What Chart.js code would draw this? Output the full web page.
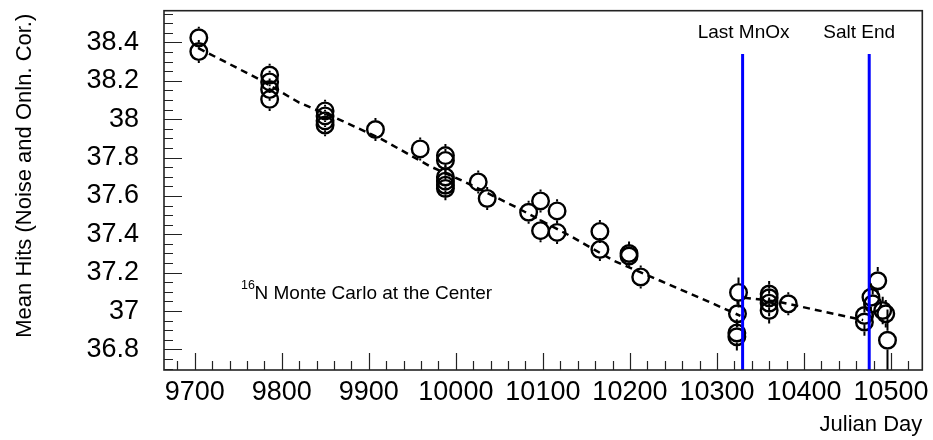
<!DOCTYPE html>
<html>
<head>
<meta charset="utf-8">
<script src="https://cdn.jsdelivr.net/npm/chart.js@4.4.1/dist/chart.umd.min.js"></script>
<style>
  html, body { margin: 0; padding: 0; background: #fff; }
  #wrap { width: 933px; height: 440px; }
</style>
</head>
<body>
<div id="wrap"><canvas id="hits-chart" width="933" height="440"></canvas></div>
<script>
// N16 source runs: mean hits per run vs Julian day
const days = [
  9704.6, 9704.6,
  9786, 9786, 9786, 9786,
  9849.7, 9849.7, 9849.7, 9849.7,
  9907.6, 9959,
  9988, 9988, 9988, 9988, 9988, 9988,
  10025.7, 10036, 10083.6, 10097.3, 10097.3, 10116.3, 10116.3,
  10165.5, 10165.5, 10199, 10199, 10212.4,
  10324.8, 10323.6, 10322.9, 10322.9,
  10360, 10360, 10360, 10360, 10382,
  10484.8, 10477, 10479, 10469.5, 10469.5, 10490.5, 10494, 10496
];
const hits = [
  38.424, 38.352,
  38.230, 38.194, 38.154, 38.103,
  38.043, 38.017, 37.991, 37.969,
  37.946, 37.845,
  37.810, 37.785, 37.699, 37.677, 37.656, 37.639,
  37.673, 37.587, 37.515, 37.574, 37.419, 37.522, 37.410,
  37.415, 37.321, 37.300, 37.287, 37.178,
  37.097, 36.986, 36.886, 36.866,
  37.089, 37.069, 37.041, 37.003, 37.038,
  37.158, 37.072, 37.038, 36.977, 36.943, 37.003, 36.986, 36.848
];
const hitErrs = [
  0.058, 0.060,
  0.058, 0.058, 0.058, 0.060,
  0.058, 0.058, 0.058, 0.058,
  0.060, 0.060,
  0.060, 0.060, 0.060, 0.060, 0.060, 0.062,
  0.060, 0.060, 0.060, 0.060, 0.060, 0.060, 0.060,
  0.060, 0.060, 0.062, 0.062, 0.060,
  0.078, 0.068, 0.072, 0.072,
  0.068, 0.068, 0.068, 0.068, 0.060,
  0.072, 0.072, 0.072, 0.072, 0.072, 0.072, 0.072, 0.160
];

// fitted trend, before and after the last MnOx assay
const fitDaysA = [9704, 9730, 9775, 9820, 9870, 9915, 9970, 10007, 10068, 10132, 10182, 10235, 10292, 10327];
const fitHitsA = [38.37, 38.31, 38.205, 38.086, 37.99, 37.895, 37.755, 37.68, 37.544, 37.39, 37.261, 37.158, 37.046, 36.975];
const fitDaysB = [10331, 10369, 10468];
const fitHitsB = [37.07, 37.05, 36.953];

// run period markers
const markerDays = [10329.5, 10475];
const markerNames = ["Last MnOx", "Salt End"];
const markerTop = 38.34;

const xTickValues = [9700, 9800, 9900, 10000, 10100, 10200, 10300, 10400, 10500];
const yTickValues = [36.8, 37.0, 37.2, 37.4, 37.6, 37.8, 38.0, 38.2, 38.4];
const xRange = [9664.6, 10536];
const yRange = [36.693, 38.565];

const FONT = "'Liberation Sans', Arial, Helvetica, sans-serif";

const pts = days.map((d, i) => ({ x: d, y: hits[i] }));
const fitA = fitDaysA.map((d, i) => ({ x: d, y: fitHitsA[i] }));
const fitB = fitDaysB.map((d, i) => ({ x: d, y: fitHitsB[i] }));

const markerSets = markerDays.map(d => ({
  type: "line",
  data: [{ x: d, y: yRange[0] }, { x: d, y: markerTop }],
  borderColor: "#0000ff",
  borderWidth: 3,
  pointRadius: 0,
  order: 0
}));

// ROOT-like frame: inward major/minor ticks, error bars, labels
const rootFrame = {
  id: "rootFrame",
  afterDatasetsDraw(chart) {
    const ctx = chart.ctx;
    const xs = chart.scales.x, ys = chart.scales.y;
    ctx.save();
    ctx.strokeStyle = "#000";
    ctx.lineWidth = 2;
    const r = 9.5;
    pts.forEach((p, i) => {
      const px = xs.getPixelForValue(p.x);
      const py = ys.getPixelForValue(p.y);
      const hi = ys.getPixelForValue(p.y + hitErrs[i]);
      const lo = Math.min(ys.getPixelForValue(p.y - hitErrs[i]), chart.chartArea.bottom);
      ctx.beginPath();
      if (py - hi > r) { ctx.moveTo(px, py - r); ctx.lineTo(px, hi); }
      if (lo - py > r) { ctx.moveTo(px, py + r); ctx.lineTo(px, lo); }
      ctx.stroke();
    });
    ctx.restore();
  },
  afterDraw(chart) {
    const ctx = chart.ctx;
    const { left, right, top, bottom } = chart.chartArea;
    const xs = chart.scales.x, ys = chart.scales.y;
    ctx.save();

    // frame
    ctx.strokeStyle = "#222";
    ctx.lineWidth = 1.6;
    ctx.strokeRect(left, top, right - left, bottom - top);

    // x ticks: 5 divisions per 100 days
    ctx.lineWidth = 1.2;
    ctx.beginPath();
    for (let v = 9660; v <= xRange[1]; v += 20) {
      if (v < xRange[0]) continue;
      const px = Math.round(xs.getPixelForValue(v)) + 0.5;
      const len = (v % 100 === 0) ? 17 : 9;
      ctx.moveTo(px, bottom);
      ctx.lineTo(px, bottom - len);
    }
    // y ticks: 4 divisions per 0.2
    for (let k = Math.ceil(yRange[0] / 0.05); k * 0.05 <= yRange[1]; k++) {
      const v = k * 0.05;
      const py = Math.round(ys.getPixelForValue(v)) + 0.5;
      const len = (k % 4 === 0) ? 18 : 9;
      ctx.moveTo(left, py);
      ctx.lineTo(left + len, py);
    }
    ctx.stroke();

    ctx.fillStyle = "#000";

    // axis titles
    ctx.font = "22px " + FONT;
    ctx.textAlign = "right";
    ctx.textBaseline = "alphabetic";
    ctx.fillText("Julian Day", right, 431);
    ctx.save();
    ctx.translate(31, top + 3);
    ctx.rotate(-Math.PI / 2);
    ctx.fillText("Mean Hits (Noise and Onln. Cor.)", 0, 0);
    ctx.restore();

    // period marker labels
    ctx.font = "19px " + FONT;
    ctx.textAlign = "center";
    ctx.textBaseline = "middle";
    const shifts = [1, -10];
    markerDays.forEach((d, i) => {
      ctx.fillText(markerNames[i], xs.getPixelForValue(d) + shifts[i], 33);
    });

    // note
    ctx.textAlign = "left";
    ctx.textBaseline = "alphabetic";
    ctx.font = "12.5px " + FONT;
    ctx.fillText("16", 241, 289);
    ctx.font = "19px " + FONT;
    ctx.fillText("N Monte Carlo at the Center", 254.5, 299);

    ctx.restore();
  }
};

new Chart(document.getElementById("hits-chart"), {
  type: "scatter",
  data: {
    datasets: [
      ...markerSets,
      {
        type: "line",
        data: fitA,
        borderColor: "#000",
        borderWidth: 2.5,
        borderDash: [7, 5],
        pointRadius: 0,
        tension: 0,
        order: 1
      },
      {
        type: "line",
        data: fitB,
        borderColor: "#000",
        borderWidth: 2.5,
        borderDash: [7, 5],
        pointRadius: 0,
        tension: 0,
        order: 1
      },
      {
        data: pts,
        pointStyle: "circle",
        pointRadius: 8.3,
        pointBorderWidth: 2.4,
        pointBorderColor: "#000",
        pointBackgroundColor: "rgba(0,0,0,0)",
        order: 2
      }
    ]
  },
  options: {
    responsive: false,
    animation: false,
    devicePixelRatio: 1,
    events: [],
    layout: { padding: { top: 7, right: 7, left: 0, bottom: 0 } },
    plugins: { legend: { display: false }, tooltip: { enabled: false } },
    scales: {
      x: {
        type: "linear",
        min: xRange[0],
        max: xRange[1],
        grid: { display: false, drawTicks: false },
        border: { display: false },
        afterBuildTicks: s => { s.ticks = xTickValues.map(v => ({ value: v })); },
        afterFit: s => { s.height = 70; s.paddingLeft = 0; s.paddingRight = 0; },
        ticks: {
          autoSkip: false,
          maxRotation: 0,
          padding: 6,
          color: "#000",
          font: { family: FONT, size: 27 },
          callback: v => String(v)
        }
      },
      y: {
        type: "linear",
        min: yRange[0],
        max: yRange[1],
        grid: { display: false, drawTicks: false },
        border: { display: false },
        afterBuildTicks: s => { s.ticks = yTickValues.map(v => ({ value: v })); },
        afterFit: s => { s.width = 164; s.paddingTop = 0; s.paddingBottom = 0; },
        ticks: {
          autoSkip: false,
          padding: 25,
          color: "#000",
          font: { family: FONT, size: 27 },
          callback: v => String(+v.toFixed(1))
        }
      }
    }
  },
  plugins: [rootFrame]
});
</script>
</body>
</html>
